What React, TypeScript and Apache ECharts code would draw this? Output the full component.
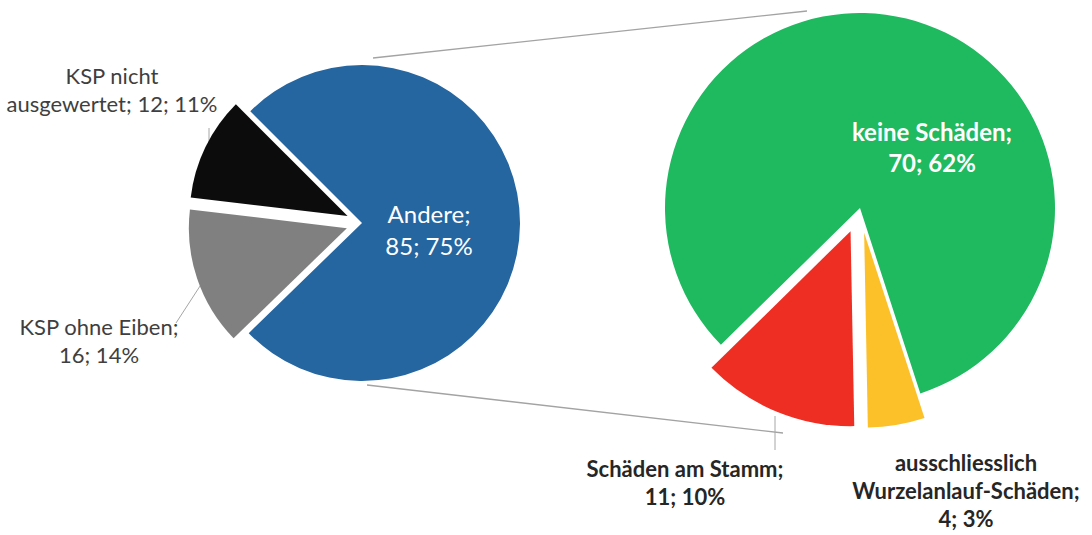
import React, { useEffect, useRef } from 'react';
import * as echarts from 'echarts';

// ---------- data ----------
const leftCategories = ['Andere', 'KSP ohne Eiben', 'KSP nicht ausgewertet'];
const leftValues = [85, 16, 12];
const leftPercents = [75, 14, 11];

const rightCategories = ['keine Schäden', 'ausschliesslich Wurzelanlauf-Schäden', 'Schäden am Stamm'];
const rightValues = [70, 4, 11];
const rightPercents = [62, 3, 10];

// ---------- styling / layout ----------
const leftColors = ['#2565a0', '#808080', '#0c0c0c'];
const rightColors = ['#1fb95f', '#fcc028', '#ee2d23'];
const leftExploded = [false, true, true];
const rightExploded = [false, true, true];

const FONT = 'Lato, "Open Sans", "DejaVu Sans", sans-serif';

const LEFT = { center: [362, 223], radius: 158, startAngle: 135, offset: 16 };
const RIGHT = { center: [860, 208], radius: 195, startAngle: 224.5, offset: 25 };

// how names are wrapped in their labels, and whether the value starts a new line
const nameWrap: Record<string, string> = {
  'KSP nicht ausgewertet': 'KSP nicht\nausgewertet',
  'ausschliesslich Wurzelanlauf-Schäden': 'ausschliesslich\nWurzelanlauf-Schäden',
};
const valueInline: Record<string, boolean> = { 'KSP nicht ausgewertet': true };

const labelCenters: Record<string, number[]> = {
  'Andere': [429, 229],
  'KSP ohne Eiben': [99, 340],
  'KSP nicht ausgewertet': [112, 89],
  'keine Schäden': [932, 147],
  'Schäden am Stamm': [685, 482],
  'ausschliesslich Wurzelanlauf-Schäden': [966, 490],
};
const leaderLines: Record<string, number[][]> = {
  'KSP nicht ausgewertet': [[209, 152], [209, 140], [209, 128]],
  'KSP ohne Eiben': [[202, 283], [189, 303], [176, 323]],
  'Schäden am Stamm': [[775, 416], [775, 433], [775, 450]],
};

const CONNECTORS = [
  [373, 58, 807, 11],
  [367, 385, 783, 433],
];

type PieCfg = { center: number[]; radius: number; startAngle: number; offset: number };
type LabelStyle = { color: string; fontSize: number; lineHeight: number; fontWeight: string };

function labelText(name: string, value: number, pct: number) {
  const n = nameWrap[name] ?? name;
  const sep = valueInline[name] ? ' ' : '\n';
  return `${n};${sep}${value}; ${pct}%`;
}

// Builds one pie series for the slices that stay in place and one per exploded slice,
// shifted outwards along that slice's middle angle.
function buildPie(
  id: string,
  cfg: PieCfg,
  categories: string[],
  values: number[],
  percents: number[],
  colors: string[],
  exploded: boolean[],
  insideStyle: LabelStyle,
  outsideStyle: LabelStyle,
) {
  const total = values.reduce((a, b) => a + b, 0);
  const groups: number[][] = [exploded.map((e, i) => (e ? -1 : i)).filter((i) => i >= 0)];
  exploded.forEach((e, i) => { if (e) groups.push([i]); });

  let cum = 0;
  const mids = values.map((v) => {
    const mid = cfg.startAngle - ((cum + v / 2) / total) * 360;
    cum += v;
    return (mid * Math.PI) / 180;
  });

  return groups.map((group, gi) => {
    const isExploded = gi > 0;
    const mid = isExploded ? mids[group[0]] : 0;
    const dx = isExploded ? Math.cos(mid) * cfg.offset : 0;
    const dy = isExploded ? -Math.sin(mid) * cfg.offset : 0;
    return {
      type: 'pie',
      id: `${id}-${gi}`,
      center: [cfg.center[0] + dx, cfg.center[1] + dy],
      radius: cfg.radius,
      startAngle: cfg.startAngle,
      clockwise: true,
      avoidLabelOverlap: false,
      silent: true,
      emphasis: { disabled: true, scale: false },
      itemStyle: { borderWidth: 0 },
      labelLayout: (p: any) => {
        const name = categories[p.dataIndex];
        const c = labelCenters[name];
        const out: any = { x: c[0], y: c[1], align: 'center', verticalAlign: 'middle' };
        if (leaderLines[name]) out.labelLinePoints = leaderLines[name];
        return out;
      },
      data: categories.map((name, i) => {
        const visible = group.includes(i);
        const st = i === 0 ? insideStyle : outsideStyle;
        return {
          name,
          value: values[i],
          itemStyle: { color: visible ? colors[i] : 'rgba(0,0,0,0)' },
          label: {
            show: visible,
            position: i === 0 ? 'inside' : 'outside',
            formatter: labelText(name, values[i], percents[i]),
            fontFamily: FONT,
            align: 'center',
            ...st,
          },
          labelLine: {
            show: visible && !!leaderLines[name],
            lineStyle: { color: '#a6a6a6', width: 1 },
          },
        };
      }),
    };
  });
}

export default function App() {
  const ref = useRef<HTMLDivElement>(null);

  useEffect(() => {
    document.body.style.margin = '0';
    const chart = echarts.init(ref.current!, undefined, { renderer: 'svg' });

    const series = [
      ...buildPie(
        'left', LEFT, leftCategories, leftValues, leftPercents, leftColors, leftExploded,
        { color: '#ffffff', fontSize: 24, lineHeight: 32, fontWeight: 'normal' },
        { color: '#3f3f3f', fontSize: 22, lineHeight: 28, fontWeight: 'normal' },
      ),
      ...buildPie(
        'right', RIGHT, rightCategories, rightValues, rightPercents, rightColors, rightExploded,
        { color: '#ffffff', fontSize: 24, lineHeight: 31, fontWeight: 'bold' },
        { color: '#262626', fontSize: 22, lineHeight: 28, fontWeight: 'bold' },
      ),
    ];

    chart.setOption({
      animation: false,
      backgroundColor: '#ffffff',
      graphic: CONNECTORS.map((c) => ({
        type: 'line',
        z: 0,
        shape: { x1: c[0], y1: c[1], x2: c[2], y2: c[3] },
        style: { stroke: '#a3a3a3', lineWidth: 1.3 },
      })),
      series,
    });

    return () => chart.dispose();
  }, []);

  return <div ref={ref} style={{ width: 1092, height: 535 }} />;
}
